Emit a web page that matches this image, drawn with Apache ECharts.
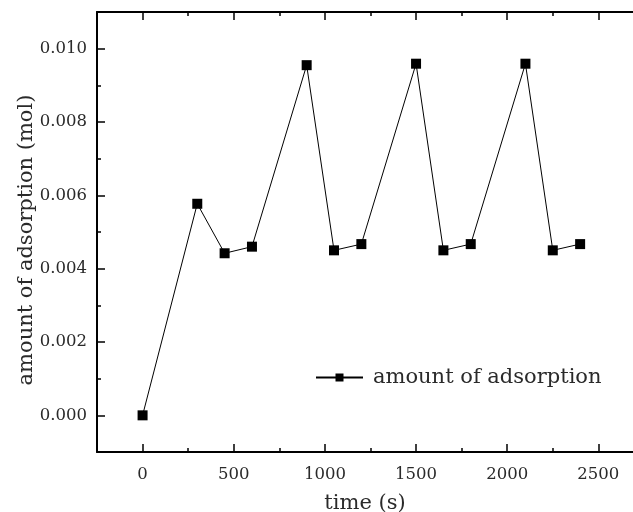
<!DOCTYPE html>
<html>
<head>
<meta charset="utf-8">
<script src="https://cdn.jsdelivr.net/npm/echarts@6/dist/echarts.min.js"></script>
<style>
  html, body { margin: 0; padding: 0; background: #fff; }
</style>
</head>
<body>
<div id="adsorptionChart" style="width: 633px; height: 512px;"></div>
<script>
// values
const timeValues = [0, 300, 450, 600, 900, 1050, 1200, 1500, 1650, 1800, 2100, 2250, 2400]
const adsorptionValues = [0, 0.00577, 0.00442, 0.0046, 0.00955, 0.0045, 0.00467, 0.00959, 0.0045, 0.00467, 0.00959, 0.0045, 0.00467]
const xMajorTicks = [0, 500, 1000, 1500, 2000, 2500]
const xMinorTicks = [250, 750, 1250, 1750, 2250]
const yMajorTicks = [0, 0.002, 0.004, 0.006, 0.008, 0.01]
const yMinorTicks = [0.001, 0.003, 0.005, 0.007, 0.009]
const seriesName = 'amount of adsorption'

const font = '"DejaVu Serif", serif'
const black = '#000'
const textColor = '#2a2a2a'

const xRange = { min: -250, max: 2690 }
const yRange = { min: -0.001, max: 0.011 }

function xAxisOf(position, ticks, len, withLine, withLabel) {
  return {
    type: 'value',
    position: position,
    offset: 0,
    min: xRange.min,
    max: xRange.max,
    axisLine: { show: withLine, onZero: false, lineStyle: { color: black, width: 2 } },
    axisTick: { show: true, inside: true, length: len, customValues: ticks, lineStyle: { color: black, width: 1.5 } },
    axisLabel: withLabel
      ? {
          show: true,
          customValues: ticks,
          margin: 14,
          color: textColor,
          fontFamily: font,
          fontSize: 16.5,
          formatter: (v) => String(v),
        }
      : { show: false },
    splitLine: { show: false },
  }
}

function yAxisOf(ticks, len, withLine, withLabel) {
  return {
    type: 'value',
    position: 'left',
    offset: 0,
    min: yRange.min,
    max: yRange.max,
    axisLine: { show: withLine, onZero: false, lineStyle: { color: black, width: 2 } },
    axisTick: { show: true, inside: true, length: len, customValues: ticks, lineStyle: { color: black, width: 1.5 } },
    axisLabel: withLabel
      ? {
          show: true,
          customValues: ticks,
          margin: 10,
          color: textColor,
          fontFamily: font,
          fontSize: 16.5,
          formatter: (v) => v.toFixed(3),
        }
      : { show: false },
    splitLine: { show: false },
  }
}

const bottomAxis = xAxisOf('bottom', xMajorTicks, 8, true, true)
bottomAxis.name = 'time (s)'
bottomAxis.nameLocation = 'middle'
bottomAxis.nameGap = 41
bottomAxis.nameMoveOverlap = false
bottomAxis.nameTextStyle = { color: textColor, fontFamily: font, fontSize: 21 }

const leftAxis = yAxisOf(yMajorTicks, 8, true, true)
leftAxis.name = 'amount of adsorption (mol)'
leftAxis.nameLocation = 'middle'
leftAxis.nameRotate = 90
leftAxis.nameGap = 60
leftAxis.nameMoveOverlap = false
leftAxis.nameTextStyle = { color: textColor, fontFamily: font, fontSize: 21, padding: [0, 16, 0, 0] }

const myChart = echarts.init(document.getElementById('adsorptionChart'))
myChart.setOption({
  animation: false,
  backgroundColor: '#fff',
  grid: { left: 97, top: 12, right: 0, bottom: 60, containLabel: false, outerBoundsMode: 'none' },
  legend: {
    data: [seriesName],
    left: 315,
    top: 367,
    padding: 0,
    itemWidth: 47,
    itemHeight: 10,
    textStyle: { color: textColor, fontFamily: font, fontSize: 21, padding: [0, 0, 0, 5] },
  },
  xAxis: [
    bottomAxis,
    xAxisOf('bottom', xMinorTicks, 4, false, false),
    xAxisOf('top', xMajorTicks, 8, true, false),
    xAxisOf('top', xMinorTicks, 4, false, false),
  ],
  yAxis: [
    leftAxis,
    yAxisOf(yMinorTicks, 4, false, false),
  ],
  series: [
    {
      name: seriesName,
      type: 'line',
      xAxisIndex: 0,
      yAxisIndex: 0,
      symbol: 'rect',
      symbolSize: 10,
      color: black,
      itemStyle: { color: black },
      lineStyle: { color: black, width: 1 },
      data: timeValues.map((t, i) => [t, adsorptionValues[i]]),
    },
  ],
})
</script>
</body>
</html>
